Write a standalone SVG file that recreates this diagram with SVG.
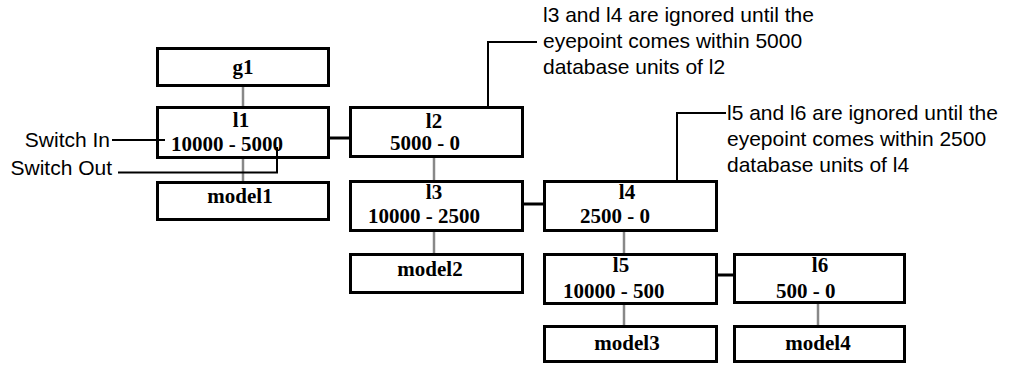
<svg xmlns="http://www.w3.org/2000/svg" width="1011" height="365" viewBox="0 0 1011 365">
<style>
.box{fill:#fff;stroke:#000;stroke-width:3}
.lbl{font-family:"Liberation Serif","Times New Roman",serif;font-weight:bold;font-size:21px;fill:#000}
.c{text-anchor:middle}
.note{font-family:"Liberation Sans",Arial,sans-serif;font-size:21px;fill:#000}
.gray{stroke:#888;stroke-width:2.5;fill:none}
.link{stroke:#000;stroke-width:3;fill:none}
.call{stroke:#000;stroke-width:2;fill:none}
</style>
<rect width="1011" height="365" fill="#fff"/>
<g id="connectors">
<line class="gray" x1="243" y1="87" x2="243" y2="106"/>
<line class="gray" x1="243" y1="159" x2="243" y2="181"/>
<line class="gray" x1="434" y1="158" x2="434" y2="180"/>
<line class="gray" x1="434" y1="232" x2="434" y2="253"/>
<line class="gray" x1="624" y1="232" x2="624" y2="253"/>
<line class="gray" x1="624" y1="305" x2="624" y2="325"/>
<line class="gray" x1="818" y1="304" x2="818" y2="325"/>
<line class="link" x1="330" y1="138" x2="349" y2="138"/>
<line class="link" x1="524" y1="204" x2="543" y2="204"/>
<line class="link" x1="718" y1="275" x2="733" y2="275"/>
</g>
<g id="g1">
<rect class="box" x="157.5" y="48.5" width="171" height="37"/>
<text class="lbl c" x="243" y="74">g1</text>
</g>
<g id="l1">
<rect class="box" x="157.5" y="107.5" width="171" height="50"/>
<text class="lbl c" x="241" y="127">l1</text>
<text class="lbl" x="171" y="151">10000 - 5000</text>
</g>
<g id="model1">
<rect class="box" x="157.5" y="182.5" width="171" height="37"/>
<text class="lbl c" x="240" y="203">model1</text>
</g>
<g id="l2">
<rect class="box" x="350.5" y="107.5" width="172" height="49"/>
<text class="lbl c" x="434" y="128">l2</text>
<text class="lbl" x="390" y="150">5000 - 0</text>
</g>
<g id="l3">
<rect class="box" x="350.5" y="181.5" width="172" height="49"/>
<text class="lbl c" x="434" y="199">l3</text>
<text class="lbl" x="368" y="223">10000 - 2500</text>
</g>
<g id="model2">
<rect class="box" x="350.5" y="254.5" width="172" height="38"/>
<text class="lbl c" x="430" y="276">model2</text>
</g>
<g id="l4">
<rect class="box" x="544.5" y="181.5" width="172" height="49"/>
<text class="lbl c" x="627" y="199">l4</text>
<text class="lbl" x="580" y="223">2500 - 0</text>
</g>
<g id="l5">
<rect class="box" x="544.5" y="254.5" width="172" height="49"/>
<text class="lbl c" x="621" y="272">l5</text>
<text class="lbl" x="563" y="298">10000 - 500</text>
</g>
<g id="model3">
<rect class="box" x="544.5" y="326.5" width="172" height="35"/>
<text class="lbl c" x="627" y="350">model3</text>
</g>
<g id="l6">
<rect class="box" x="734.5" y="254.5" width="170" height="48"/>
<text class="lbl c" x="820" y="272">l6</text>
<text class="lbl" x="776" y="298">500 - 0</text>
</g>
<g id="model4">
<rect class="box" x="734.5" y="326.5" width="170" height="35"/>
<text class="lbl c" x="818" y="350">model4</text>
</g>
<g id="callouts">
<line class="call" x1="112" y1="140" x2="165" y2="140"/>
<path class="call" d="M118 172.5 H277 V147"/>
<path class="call" d="M488 107 V42 H537"/>
<path class="call" d="M677 181 V113 H726"/>
<text class="note" x="110" y="147" text-anchor="end">Switch In</text>
<text class="note" x="112" y="175" text-anchor="end">Switch Out</text>
<text class="note" x="543" y="22">l3 and l4 are ignored until the</text>
<text class="note" x="543" y="48">eyepoint comes within 5000</text>
<text class="note" x="543" y="74">database units of l2</text>
<text class="note" x="727" y="120">l5 and l6 are ignored until the</text>
<text class="note" x="727" y="146">eyepoint comes within 2500</text>
<text class="note" x="727" y="172">database units of l4</text>
</g>
</svg>
